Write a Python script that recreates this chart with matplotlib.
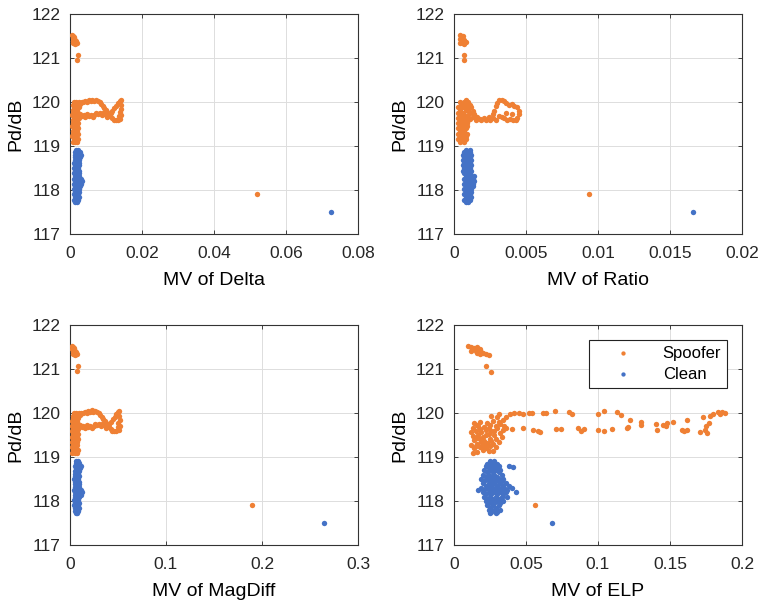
import numpy as np
import matplotlib
matplotlib.use("Agg")
import matplotlib.pyplot as plt

plt.rcParams['font.family'] = ['Liberation Sans', 'DejaVu Sans']

SPOOF_COLOR = '#EF8034'
CLEAN_COLOR = '#4472C6'

PD_TICKS = [117, 118, 119, 120, 121, 122]

# --- MV of Delta ---
DELTA_TICKS = [0, 0.02, 0.04, 0.06, 0.08]
DELTA_SPOOF = [
    (0.0006, 121.52), (0.0009, 121.5), (0.0012, 121.47), (0.0007, 121.45), (0.0010, 121.42),
    (0.0014, 121.4), (0.0007, 121.38), (0.0011, 121.36), (0.0016, 121.35), (0.0020, 121.34),
    (0.0013, 121.31), (0.0009, 121.33), (0.0018, 121.38),
    (0.0022, 121.06), (0.0019, 120.95),
    (0.0007, 119.10), (0.0013, 119.10), (0.0019, 119.10),
    (0.0010, 119.16), (0.0016, 119.16), (0.0022, 119.16),
    (0.0006, 119.22), (0.0012, 119.22), (0.0018, 119.22),
    (0.0009, 119.28), (0.0015, 119.28), (0.0021, 119.28),
    (0.0007, 119.34), (0.0013, 119.34), (0.0020, 119.34),
    (0.0010, 119.40), (0.0017, 119.40), (0.0023, 119.40),
    (0.0006, 119.46), (0.0012, 119.46), (0.0019, 119.46),
    (0.0009, 119.52), (0.0015, 119.52), (0.0022, 119.52),
    (0.0007, 119.58), (0.0014, 119.58), (0.0020, 119.58),
    (0.0010, 119.64), (0.0017, 119.64), (0.0024, 119.64),
    (0.0006, 119.70), (0.0013, 119.70), (0.0021, 119.70),
    (0.0009, 119.76), (0.0016, 119.76), (0.0023, 119.76),
    (0.0007, 119.82), (0.0014, 119.82), (0.0020, 119.82),
    (0.0010, 119.88), (0.0017, 119.88), (0.0024, 119.88),
    (0.0008, 119.94), (0.0015, 119.94), (0.0022, 119.94),
    (0.0011, 120.00), (0.0018, 120.00), (0.0025, 120.00),
    (0.0027, 119.96), (0.0032, 119.99), (0.0037, 120.0), (0.0042, 120.02), (0.0047, 120.0),
    (0.0052, 120.04), (0.0057, 120.02), (0.0062, 120.05), (0.0067, 120.03), (0.0072, 120.05),
    (0.0077, 120.02), (0.0082, 120.0), (0.0087, 119.96),
    (0.0028, 119.72), (0.0033, 119.68), (0.0038, 119.7), (0.0043, 119.66), (0.0048, 119.72),
    (0.0053, 119.68), (0.0058, 119.7), (0.0063, 119.65), (0.0068, 119.7), (0.0073, 119.75),
    (0.0078, 119.72), (0.0083, 119.74), (0.0088, 119.7), (0.0093, 119.75), (0.0098, 119.72),
    (0.0091, 119.92), (0.0095, 119.86), (0.0099, 119.82), (0.0103, 119.77), (0.0108, 119.72),
    (0.0112, 119.68), (0.0117, 119.64), (0.0122, 119.6), (0.0127, 119.58), (0.0132, 119.6),
    (0.0102, 119.65), (0.0107, 119.7), (0.0113, 119.75), (0.0118, 119.8), (0.0123, 119.86),
    (0.0128, 119.92), (0.0133, 119.97), (0.0138, 120.02), (0.0141, 120.05),
    (0.0140, 119.62), (0.0142, 119.7), (0.0139, 119.78), (0.0143, 119.85), (0.0141, 119.93),
    (0.0136, 119.68),
    (0.052, 117.9),
]
DELTA_CLEAN = [
    (0.0015, 117.72), (0.0020, 117.72),
    (0.0012, 117.78), (0.0018, 117.78), (0.0023, 117.78),
    (0.0014, 117.84), (0.0020, 117.84), (0.0025, 117.84),
    (0.0011, 117.90), (0.0017, 117.90), (0.0023, 117.90),
    (0.0013, 117.96), (0.0019, 117.96), (0.0026, 117.96),
    (0.0011, 118.02), (0.0018, 118.02), (0.0024, 118.02),
    (0.0014, 118.08), (0.0020, 118.08), (0.0027, 118.08),
    (0.0012, 118.14), (0.0019, 118.14), (0.0025, 118.14), (0.0030, 118.14),
    (0.0013, 118.20), (0.0020, 118.20), (0.0027, 118.20), (0.0033, 118.20),
    (0.0011, 118.26), (0.0018, 118.26), (0.0024, 118.26), (0.0031, 118.26),
    (0.0014, 118.32), (0.0020, 118.32), (0.0026, 118.32),
    (0.0012, 118.38), (0.0018, 118.38), (0.0025, 118.38),
    (0.0013, 118.44), (0.0019, 118.44), (0.0026, 118.44),
    (0.0011, 118.50), (0.0017, 118.50), (0.0023, 118.50),
    (0.0014, 118.56), (0.0020, 118.56), (0.0025, 118.56),
    (0.0012, 118.62), (0.0018, 118.62), (0.0024, 118.62),
    (0.0013, 118.68), (0.0019, 118.68), (0.0026, 118.68),
    (0.0015, 118.74), (0.0021, 118.74), (0.0029, 118.74),
    (0.0013, 118.80), (0.0019, 118.80), (0.0031, 118.80),
    (0.0015, 118.86), (0.0021, 118.86), (0.0027, 118.86),
    (0.0017, 118.90), (0.0023, 118.90),
    (0.0725, 117.5),
]

# --- MV of Ratio ---
RATIO_TICKS = [0, 0.005, 0.01, 0.015, 0.02]
RATIO_SPOOF = [
    (0.0004, 121.52), (0.0005, 121.48), (0.0006, 121.5), (0.0004, 121.44), (0.0006, 121.42),
    (0.0007, 121.4), (0.0005, 121.37), (0.0008, 121.36), (0.0006, 121.33), (0.0004, 121.35),
    (0.0007, 121.32),
    (0.0007, 121.07), (0.0007, 120.95),
    (0.0004, 119.10), (0.0007, 119.10),
    (0.0003, 119.16), (0.0006, 119.16), (0.0008, 119.16),
    (0.0005, 119.22), (0.0008, 119.22),
    (0.0003, 119.28), (0.0006, 119.28), (0.0009, 119.28),
    (0.0004, 119.34), (0.0007, 119.34),
    (0.0003, 119.40), (0.0005, 119.40), (0.0008, 119.40),
    (0.0004, 119.46), (0.0007, 119.46), (0.0009, 119.46),
    (0.0003, 119.52), (0.0006, 119.52), (0.0009, 119.52),
    (0.0004, 119.58), (0.0007, 119.58), (0.0010, 119.58),
    (0.0003, 119.64), (0.0006, 119.64), (0.0009, 119.64),
    (0.0004, 119.70), (0.0007, 119.70), (0.0010, 119.70),
    (0.0003, 119.76), (0.0006, 119.76), (0.0011, 119.76),
    (0.0004, 119.82), (0.0008, 119.82), (0.0010, 119.82),
    (0.0003, 119.88), (0.0006, 119.88), (0.0009, 119.88),
    (0.0005, 119.94), (0.0008, 119.94), (0.0011, 119.94),
    (0.0004, 120.00), (0.0007, 120.00), (0.0010, 120.00), (0.0008, 120.04),
    (0.0012, 119.88), (0.0013, 119.8), (0.0014, 119.72),
    (0.0011, 119.62), (0.0013, 119.65), (0.0015, 119.6), (0.0016, 119.66), (0.0018, 119.62),
    (0.0019, 119.58), (0.0021, 119.63), (0.0022, 119.6), (0.0024, 119.65), (0.0025, 119.6),
    (0.0027, 119.63),
    (0.0027, 119.72), (0.0028, 119.8), (0.0029, 119.9), (0.0030, 119.98), (0.0031, 120.04),
    (0.0033, 120.05), (0.0035, 120.02), (0.0036, 119.97), (0.0038, 119.94), (0.0040, 119.95),
    (0.0042, 119.92), (0.0044, 119.88), (0.0045, 119.8), (0.0045, 119.72), (0.0044, 119.64),
    (0.0043, 119.58), (0.0041, 119.6), (0.0039, 119.62), (0.0037, 119.6), (0.0035, 119.63),
    (0.0033, 119.65), (0.0031, 119.68), (0.0029, 119.6), (0.0040, 119.72), (0.0036, 119.75),
    (0.0094, 117.9),
]
RATIO_CLEAN = [
    (0.0008, 117.72), (0.0010, 117.72),
    (0.0007, 117.78), (0.0009, 117.78), (0.0011, 117.78),
    (0.0008, 117.84), (0.0010, 117.84), (0.0012, 117.84),
    (0.0007, 117.90), (0.0009, 117.90), (0.0011, 117.90),
    (0.0008, 117.96), (0.0010, 117.96), (0.0012, 117.96),
    (0.0007, 118.02), (0.0009, 118.02), (0.0012, 118.02),
    (0.0008, 118.08), (0.0010, 118.08), (0.0013, 118.08),
    (0.0007, 118.14), (0.0009, 118.14), (0.0011, 118.14), (0.0013, 118.14),
    (0.0008, 118.20), (0.0010, 118.20), (0.0012, 118.20), (0.0014, 118.20),
    (0.0007, 118.26), (0.0009, 118.26), (0.0011, 118.26), (0.0013, 118.26),
    (0.0008, 118.32), (0.0010, 118.32), (0.0012, 118.32), (0.0014, 118.32),
    (0.0007, 118.38), (0.0009, 118.38), (0.0011, 118.38),
    (0.0006, 118.44), (0.0008, 118.44), (0.0010, 118.44), (0.0012, 118.44),
    (0.0007, 118.50), (0.0009, 118.50), (0.0011, 118.50),
    (0.0006, 118.56), (0.0008, 118.56), (0.0010, 118.56), (0.0012, 118.56),
    (0.0007, 118.62), (0.0009, 118.62), (0.0011, 118.62),
    (0.0006, 118.68), (0.0008, 118.68), (0.0010, 118.68), (0.0012, 118.68),
    (0.0007, 118.74), (0.0009, 118.74), (0.0011, 118.74),
    (0.0006, 118.80), (0.0008, 118.80), (0.0010, 118.80), (0.0012, 118.80),
    (0.0007, 118.86), (0.0009, 118.86), (0.0011, 118.86),
    (0.0008, 118.90), (0.0011, 118.90),
    (0.0166, 117.5),
]

# --- MV of MagDiff ---
MAGDIFF_TICKS = [0, 0.1, 0.2, 0.3]
MAGDIFF_SPOOF = [
    (0.0020, 121.52), (0.0035, 121.5), (0.0045, 121.47), (0.0025, 121.45), (0.0040, 121.42),
    (0.0055, 121.4), (0.0028, 121.38), (0.0042, 121.36), (0.0060, 121.35), (0.0072, 121.33),
    (0.0050, 121.31), (0.0033, 121.33), (0.0065, 121.38),
    (0.0080, 121.07), (0.0068, 120.95),
    (0.0025, 119.10), (0.0048, 119.10), (0.0070, 119.10),
    (0.0035, 119.16), (0.0058, 119.16), (0.0080, 119.16),
    (0.0022, 119.22), (0.0045, 119.22), (0.0066, 119.22),
    (0.0032, 119.28), (0.0055, 119.28), (0.0077, 119.28),
    (0.0025, 119.34), (0.0048, 119.34), (0.0072, 119.34),
    (0.0036, 119.40), (0.0060, 119.40), (0.0084, 119.40),
    (0.0022, 119.46), (0.0045, 119.46), (0.0069, 119.46),
    (0.0032, 119.52), (0.0055, 119.52), (0.0080, 119.52),
    (0.0026, 119.58), (0.0050, 119.58), (0.0073, 119.58),
    (0.0036, 119.64), (0.0062, 119.64), (0.0088, 119.64),
    (0.0022, 119.70), (0.0048, 119.70), (0.0077, 119.70),
    (0.0032, 119.76), (0.0058, 119.76), (0.0084, 119.76),
    (0.0026, 119.82), (0.0050, 119.82), (0.0073, 119.82),
    (0.0036, 119.88), (0.0062, 119.88), (0.0088, 119.88),
    (0.0029, 119.94), (0.0055, 119.94), (0.0080, 119.94),
    (0.0040, 120.00), (0.0065, 120.00), (0.0092, 120.00),
    (0.0100, 119.96), (0.0118, 119.99), (0.0136, 120.0), (0.0154, 120.03), (0.0172, 120.0),
    (0.0190, 120.05), (0.0208, 120.02), (0.0226, 120.06), (0.0244, 120.03), (0.0262, 120.05),
    (0.0280, 120.02), (0.0298, 120.0), (0.0316, 119.96),
    (0.0102, 119.72), (0.0120, 119.68), (0.0138, 119.7), (0.0156, 119.66), (0.0174, 119.72),
    (0.0192, 119.68), (0.0210, 119.7), (0.0228, 119.65), (0.0246, 119.7), (0.0264, 119.75),
    (0.0282, 119.72), (0.0300, 119.74), (0.0318, 119.7), (0.0336, 119.75), (0.0354, 119.72),
    (0.0330, 119.92), (0.0345, 119.86), (0.0360, 119.82), (0.0375, 119.77), (0.0392, 119.72),
    (0.0408, 119.68), (0.0425, 119.64), (0.0442, 119.6), (0.0460, 119.58), (0.0478, 119.6),
    (0.0370, 119.65), (0.0388, 119.7), (0.0410, 119.75), (0.0428, 119.8), (0.0448, 119.86),
    (0.0466, 119.92), (0.0484, 119.97), (0.0502, 120.02), (0.0515, 120.05),
    (0.0510, 119.62), (0.0518, 119.7), (0.0505, 119.78), (0.0522, 119.85), (0.0515, 119.93),
    (0.0495, 119.68),
    (0.190, 117.9),
]
MAGDIFF_CLEAN = [
    (0.0060, 117.72), (0.0078, 117.72),
    (0.0050, 117.78), (0.0068, 117.78), (0.0085, 117.78),
    (0.0056, 117.84), (0.0075, 117.84), (0.0092, 117.84),
    (0.0046, 117.90), (0.0064, 117.90), (0.0084, 117.90),
    (0.0054, 117.96), (0.0072, 117.96), (0.0095, 117.96),
    (0.0046, 118.02), (0.0066, 118.02), (0.0088, 118.02),
    (0.0056, 118.08), (0.0075, 118.08), (0.0098, 118.08),
    (0.0050, 118.14), (0.0070, 118.14), (0.0092, 118.14), (0.0112, 118.14),
    (0.0054, 118.20), (0.0075, 118.20), (0.0098, 118.20), (0.0122, 118.20),
    (0.0046, 118.26), (0.0066, 118.26), (0.0088, 118.26), (0.0114, 118.26),
    (0.0056, 118.32), (0.0075, 118.32), (0.0096, 118.32),
    (0.0050, 118.38), (0.0068, 118.38), (0.0092, 118.38),
    (0.0054, 118.44), (0.0072, 118.44), (0.0095, 118.44),
    (0.0046, 118.50), (0.0064, 118.50), (0.0085, 118.50),
    (0.0056, 118.56), (0.0075, 118.56), (0.0092, 118.56),
    (0.0050, 118.62), (0.0068, 118.62), (0.0088, 118.62),
    (0.0054, 118.68), (0.0072, 118.68), (0.0095, 118.68),
    (0.0060, 118.74), (0.0078, 118.74), (0.0106, 118.74),
    (0.0054, 118.80), (0.0072, 118.80), (0.0112, 118.80),
    (0.0060, 118.86), (0.0078, 118.86), (0.0098, 118.86),
    (0.0065, 118.90), (0.0085, 118.90),
    (0.265, 117.5),
]

# --- MV of ELP ---
ELP_TICKS = [0, 0.05, 0.1, 0.15, 0.2]
ELP_SPOOF = [
    (0.010, 121.52), (0.012, 121.5), (0.014, 121.48), (0.016, 121.5), (0.013, 121.45),
    (0.015, 121.42), (0.018, 121.45), (0.017, 121.4), (0.019, 121.38), (0.020, 121.36),
    (0.022, 121.33), (0.024, 121.32), (0.016, 121.36), (0.018, 121.35), (0.012, 121.4),
    (0.022, 121.06), (0.026, 120.93),
    (0.013, 119.1), (0.016, 119.12), (0.020, 119.15), (0.024, 119.13), (0.027, 119.14),
    (0.014, 119.2), (0.018, 119.22), (0.022, 119.2), (0.025, 119.25), (0.029, 119.22),
    (0.012, 119.28), (0.016, 119.3), (0.020, 119.28), (0.023, 119.32), (0.027, 119.3),
    (0.031, 119.35), (0.014, 119.38), (0.018, 119.4), (0.021, 119.36), (0.025, 119.42),
    (0.029, 119.4), (0.033, 119.45), (0.013, 119.47), (0.017, 119.5), (0.020, 119.46),
    (0.024, 119.52), (0.028, 119.5), (0.032, 119.55), (0.012, 119.57), (0.015, 119.6),
    (0.019, 119.56), (0.022, 119.62), (0.026, 119.6), (0.030, 119.65), (0.034, 119.62),
    (0.013, 119.67), (0.017, 119.7), (0.021, 119.68), (0.025, 119.72), (0.029, 119.7),
    (0.032, 119.75), (0.035, 119.7), (0.014, 119.77), (0.018, 119.8), (0.023, 119.78),
    (0.027, 119.82), (0.031, 119.8), (0.034, 119.85), (0.036, 119.9), (0.030, 119.9),
    (0.015, 119.25), (0.019, 119.33), (0.023, 119.25), (0.016, 119.44), (0.022, 119.5),
    (0.026, 119.37), (0.018, 119.63), (0.024, 119.66), (0.028, 119.58), (0.016, 119.73),
    (0.026, 119.93), (0.031, 119.98), (0.039, 119.98), (0.042, 120.0), (0.045, 119.99),
    (0.048, 119.97), (0.052, 119.99), (0.054, 120.0), (0.062, 120.0), (0.064, 119.99),
    (0.070, 120.04), (0.080, 120.02), (0.082, 119.98), (0.100, 119.98), (0.104, 120.05),
    (0.113, 120.02), (0.116, 119.95), (0.122, 119.85), (0.130, 119.8), (0.140, 119.75),
    (0.148, 119.78), (0.152, 119.8), (0.162, 119.85), (0.173, 119.92), (0.180, 119.98),
    (0.183, 120.02), (0.186, 120.03), (0.188, 120.0), (0.185, 119.97), (0.178, 119.93),
    (0.036, 119.65), (0.040, 119.63), (0.048, 119.65), (0.055, 119.62), (0.058, 119.6),
    (0.060, 119.57), (0.071, 119.63), (0.074, 119.64), (0.086, 119.65), (0.088, 119.6),
    (0.090, 119.63), (0.100, 119.62), (0.104, 119.58), (0.110, 119.63), (0.120, 119.65),
    (0.121, 119.68), (0.130, 119.72), (0.141, 119.62), (0.145, 119.72), (0.147, 119.7),
    (0.158, 119.62), (0.160, 119.58), (0.162, 119.62), (0.171, 119.57), (0.174, 119.62),
    (0.175, 119.7), (0.177, 119.78), (0.176, 119.55),
    (0.056, 117.9),
]
ELP_CLEAN = [
    (0.025, 118.9), (0.028, 118.9),
    (0.023, 118.85), (0.026, 118.85), (0.030, 118.85),
    (0.022, 118.8), (0.025, 118.8), (0.028, 118.8), (0.031, 118.8),
    (0.024, 118.75), (0.027, 118.75), (0.030, 118.75),
    (0.021, 118.7), (0.025, 118.7), (0.029, 118.7), (0.032, 118.7),
    (0.023, 118.65), (0.027, 118.65), (0.031, 118.65),
    (0.020, 118.6), (0.024, 118.6), (0.028, 118.6), (0.033, 118.6),
    (0.022, 118.55), (0.026, 118.55), (0.030, 118.55),
    (0.019, 118.5), (0.023, 118.5), (0.027, 118.5), (0.031, 118.5), (0.034, 118.5),
    (0.021, 118.45), (0.025, 118.45), (0.029, 118.45), (0.033, 118.45),
    (0.020, 118.4), (0.024, 118.4), (0.028, 118.4), (0.032, 118.4), (0.036, 118.4),
    (0.022, 118.35), (0.026, 118.35), (0.030, 118.35), (0.034, 118.35), (0.038, 118.35),
    (0.019, 118.3), (0.023, 118.3), (0.027, 118.3), (0.031, 118.3), (0.035, 118.3), (0.040, 118.3),
    (0.017, 118.25), (0.021, 118.25), (0.025, 118.25), (0.029, 118.25), (0.033, 118.25), (0.037, 118.25),
    (0.020, 118.2), (0.024, 118.2), (0.028, 118.2), (0.032, 118.2), (0.036, 118.2), (0.043, 118.2),
    (0.022, 118.15), (0.026, 118.15), (0.030, 118.15), (0.034, 118.15),
    (0.021, 118.1), (0.025, 118.1), (0.029, 118.1), (0.033, 118.1), (0.037, 118.1),
    (0.023, 118.05), (0.027, 118.05), (0.031, 118.05),
    (0.022, 118.0), (0.026, 118.0), (0.030, 118.0), (0.034, 118.0),
    (0.024, 117.95), (0.028, 117.95), (0.032, 117.95),
    (0.023, 117.9), (0.027, 117.9), (0.031, 117.9),
    (0.025, 117.85), (0.029, 117.85),
    (0.024, 117.8), (0.028, 117.8), (0.032, 117.8),
    (0.026, 117.75), (0.030, 117.75),
    (0.025, 117.72), (0.029, 117.72),
    (0.038, 118.8), (0.041, 118.78),
    (0.068, 117.5),
]


def draw_panel(ax, spoof, clean, ticks, xlabel):
    sx, sy = np.array(spoof).T
    cx, cy = np.array(clean).T
    ax.scatter(sx, sy, s=15, color=SPOOF_COLOR, linewidths=0, label='Spoofer', zorder=3)
    ax.scatter(cx, cy, s=15, color=CLEAN_COLOR, linewidths=0, label='Clean', zorder=3)
    ax.set_xlim(ticks[0], ticks[-1])
    ax.set_ylim(117, 122)
    ax.set_xticks(ticks, labels=[f'{t:g}' for t in ticks])
    ax.set_yticks(PD_TICKS, labels=[str(t) for t in PD_TICKS])
    ax.grid(True, color='#dddddd', linewidth=0.7)
    ax.set_axisbelow(True)
    ax.tick_params(direction='in', length=3, width=0.6, top=True, right=True,
                   labelsize=12.5, colors='#262626')
    ax.tick_params(axis='x', pad=8.5)
    ax.tick_params(axis='y', pad=7)
    for sp in ax.spines.values():
        sp.set_color('#333333')
        sp.set_linewidth(0.8)
    ax.set_xlabel(xlabel, fontsize=14, labelpad=8)
    ax.set_ylabel('Pd/dB', fontsize=14, labelpad=5)


fig = plt.figure(figsize=(7.62, 6.03), dpi=100)
W, H = 762, 603
boxes = [(70, 14), (454, 14), (70, 325), (454, 325)]
axes = [fig.add_axes([l / W, 1 - (t + 220) / H, 288 / W, 220 / H]) for l, t in boxes]

draw_panel(axes[0], DELTA_SPOOF, DELTA_CLEAN, DELTA_TICKS, 'MV of Delta')
draw_panel(axes[1], RATIO_SPOOF, RATIO_CLEAN, RATIO_TICKS, 'MV of Ratio')
draw_panel(axes[2], MAGDIFF_SPOOF, MAGDIFF_CLEAN, MAGDIFF_TICKS, 'MV of MagDiff')
draw_panel(axes[3], ELP_SPOOF, ELP_CLEAN, ELP_TICKS, 'MV of ELP')

axes[3].legend(loc='upper right', fontsize=12, fancybox=False, edgecolor='#222222',
               framealpha=1, handlelength=3.4, handletextpad=0.7, borderaxespad=0.9,
               borderpad=0.35, labelspacing=0.35,
               markerscale=0.8, scatterpoints=1).get_frame().set_linewidth(0.8)

fig.savefig('out.png', dpi=100)
